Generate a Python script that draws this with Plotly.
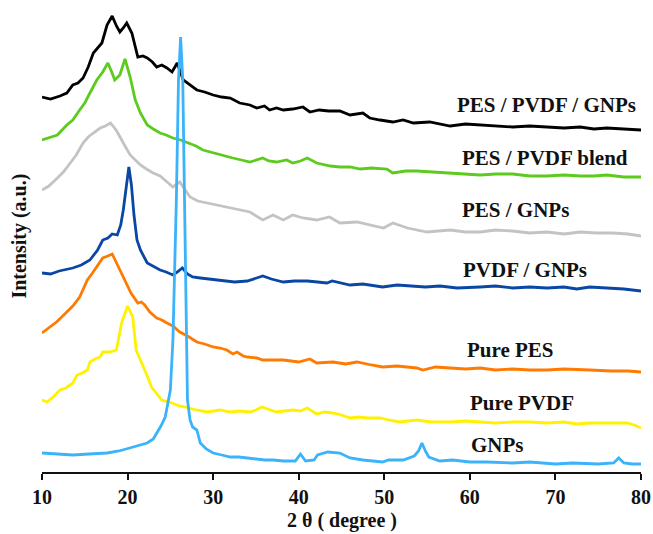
import plotly.graph_objects as go

# ---- data (2theta in degrees, intensity in arbitrary units) ----
x_black = [10.0, 11.0, 12.1, 12.9, 13.6, 14.2, 14.8, 15.4, 16.0, 16.5, 17.0, 17.6, 18.2, 18.7, 19.1, 19.5,
           19.9, 20.5, 21.2, 21.8, 22.3, 22.9, 23.4, 24.0, 24.6, 25.2, 25.8, 26.5, 27.2, 28.1, 29.0,
           30.0, 31.0, 32.0, 33.1, 34.3, 35.1, 36.0, 36.6, 37.4, 38.2, 39.3, 40.5, 41.3, 42.4, 43.5,
           44.8, 46.0, 47.5, 48.3, 49.5, 51.0, 52.2, 53.4, 55.3, 56.5, 57.7, 59.5, 61.2, 63.0, 65.0,
           67.0, 69.0, 71.0, 72.9, 74.5, 76.0, 78.0, 80.0]
y_black = [375, 373, 376, 379, 387, 389, 394, 405, 419, 424, 429, 447, 456, 446, 440, 444,
           449, 439, 415, 416, 414, 410, 405, 407, 404, 400, 409, 392, 388, 382, 380,
           377, 375, 374, 369, 367, 364, 366, 362, 364, 362, 363, 365, 360, 362, 361,
           361, 357, 359, 354, 352, 350, 352, 349, 350, 348, 346, 348, 347, 346, 345,
           346, 345, 344, 345, 343, 344, 343, 342]

x_green = [10.0, 10.8, 11.8, 12.9, 13.6, 14.4, 15.0, 15.6, 16.4, 17.1, 17.7, 18.1, 18.5, 19.1, 19.7,
           20.3, 20.9, 21.5, 22.3, 23.0, 23.8, 24.5, 25.3, 26.2, 27.0, 28.0, 28.8, 30.0, 31.0,
           32.3, 33.3, 34.3, 35.8, 36.5, 37.4, 38.6, 39.3, 40.2, 41.0, 42.1, 43.7, 44.8, 46.0,
           47.2, 48.5, 50.3, 51.0, 52.5, 53.8, 55.5, 57.7, 59.5, 61.2, 63.0, 65.0, 67.0, 69.0,
           71.0, 72.9, 74.5, 76.0, 78.0, 80.0]
y_green = [332, 334, 337, 347, 352, 362, 369, 379, 392, 400, 409, 401, 392, 397, 413,
           395, 372, 359, 347, 343, 339, 337, 334, 332, 329, 326, 322, 319, 317,
           314, 312, 310, 314, 311, 310, 312, 309, 311, 314, 309, 306, 305, 305,
           303, 304, 303, 299, 301, 301, 300, 299, 298, 297, 298, 298, 296, 296,
           297, 296, 296, 297, 295, 295]

x_gray = [10.0, 10.8, 11.8, 12.5, 13.3, 14.0, 14.8, 15.4, 16.0, 16.8, 17.4, 18.0, 18.4, 18.8, 19.5,
          20.3, 20.9, 21.5, 22.2, 23.0, 23.8, 24.6, 25.3, 26.1, 26.7, 27.3, 28.2, 29.3, 30.5,
          32.3, 33.3, 34.3, 35.8, 37.0, 38.2, 39.3, 40.5, 42.1, 43.6, 44.8, 46.8, 48.3, 49.9,
          51.0, 52.7, 55.0, 57.7, 59.5, 61.2, 63.0, 65.0, 67.0, 69.0, 71.0, 72.9, 74.8, 76.7,
          78.5, 80.0]
y_gray = [282, 286, 294, 300, 309, 317, 329, 335, 339, 344, 346, 349, 345, 340, 329,
          317, 312, 307, 303, 299, 296, 290, 285, 290, 282, 275, 271, 269, 267,
          264, 262, 260, 252, 257, 252, 257, 254, 252, 255, 249, 250, 247, 244,
          249, 244, 240, 242, 240, 240, 242, 241, 239, 240, 238, 240, 239, 239,
          238, 236]

x_blue = [10.0, 11.0, 12.0, 13.6, 14.6, 15.6, 16.5, 17.1, 17.7, 18.2, 18.8, 19.2, 19.5, 19.85, 20.15,
          20.45, 20.75, 21.1, 21.5, 22.3, 23.0, 23.8, 24.5, 25.3, 25.8, 26.4, 27.0, 27.6, 28.5,
          29.5, 31.2, 32.5, 34.0, 35.0, 35.8, 36.8, 38.2, 39.5, 41.0, 42.2, 43.3, 43.9, 45.0,
          46.0, 47.5, 49.8, 51.5, 53.0, 54.8, 56.5, 58.5, 61.2, 63.0, 65.0, 67.0, 69.0, 71.0,
          72.5, 74.0, 76.0, 78.0, 80.0]
y_blue = [199, 198, 201, 204, 207, 212, 222, 232, 234, 238, 237, 247, 262, 287, 305,
          287, 257, 232, 222, 209, 206, 202, 200, 197, 200, 204, 198, 195, 194,
          193, 192, 190, 191, 194, 196, 193, 190, 191, 191, 190, 189, 191, 189,
          187, 188, 185, 187, 186, 185, 186, 184, 185, 186, 184, 185, 184, 185,
          183, 185, 184, 183, 181]

x_orange = [10.0, 10.8, 11.7, 12.9, 13.6, 14.4, 15.3, 15.9, 16.4, 17.1, 17.7, 18.2, 18.6, 19.1, 19.7,
            20.4, 21.2, 21.6, 22.0, 22.6, 23.4, 24.0, 24.6, 25.3, 26.1, 27.0, 28.1, 29.0, 30.0,
            30.8, 31.6, 32.3, 32.8, 33.5, 34.0, 35.1, 35.8, 36.6, 38.2, 40.0, 41.3, 42.1, 44.0,
            45.5, 46.8, 48.5, 49.8, 51.5, 53.8, 54.5, 56.0, 57.7, 59.5, 61.2, 63.0, 65.0, 67.0,
            69.0, 71.0, 74.0, 76.5, 78.5, 80.0]
y_orange = [139, 144, 150, 160, 166, 175, 192, 199, 205, 214, 216, 218, 211, 202, 190,
            179, 169, 170, 167, 160, 154, 152, 149, 146, 140, 136, 130, 128, 125,
            124, 122, 118, 120, 116, 115, 114, 112, 112, 112, 110, 113, 109, 110,
            108, 110, 107, 105, 106, 104, 102, 105, 104, 103, 104, 102, 103, 102,
            102, 103, 102, 101, 101, 100]

x_yellow = [10.0, 10.6, 11.3, 12.1, 12.8, 13.6, 14.1, 14.7, 15.3, 15.6, 16.2, 16.8, 17.1, 17.9, 18.7,
            19.3, 20.0, 20.6, 21.0, 21.7, 22.2, 22.8, 23.4, 24.0, 25.2, 26.0, 26.8, 28.0, 29.3,
            30.8, 32.0, 33.1, 34.3, 35.0, 35.7, 36.5, 37.4, 38.3, 39.3, 40.2, 41.0, 42.1, 43.0,
            44.0, 45.0, 46.0, 47.0, 48.0, 49.5, 50.5, 51.8, 52.8, 53.8, 55.5, 57.7, 59.5, 61.2,
            63.0, 65.0, 67.0, 69.0, 71.0, 72.5, 74.0, 76.0, 78.4, 79.2, 80.0]
y_yellow = [72, 70, 75, 82, 84, 89, 97, 99, 102, 110, 113, 115, 120, 120, 122,
            149, 166, 155, 122, 109, 98, 85, 78, 72, 69, 66, 65, 62, 60,
            62, 60, 61, 60, 62, 65, 63, 60, 61, 62, 61, 64, 58, 60,
            59, 57, 54, 55, 54, 54, 52, 50, 51, 52, 50, 50, 51, 50,
            49, 50, 50, 49, 50, 48, 49, 49, 49, 47, 44]

x_gnp = [10.0, 11.5, 13.6, 15.5, 17.6, 19.0, 20.3, 21.3, 22.3, 23.0, 23.4, 23.9, 24.4, 25.0, 25.3,
         25.7, 25.95, 26.2, 26.45, 26.7, 27.0, 27.3, 27.6, 28.1, 28.5, 29.2, 30.0, 31.0, 32.0,
         33.0, 34.0, 35.0, 36.0, 37.0, 38.2, 39.6, 40.2, 40.8, 41.8, 42.2, 43.4, 44.8, 46.0,
         47.5, 48.8, 49.8, 50.5, 52.2, 53.5, 54.0, 54.4, 54.8, 55.2, 56.5, 58.0, 60.0, 62.0,
         65.0, 67.0, 70.0, 72.0, 75.0, 76.8, 77.4, 78.0, 79.0, 80.0]
y_gnp = [19, 18, 17, 18, 19, 21, 24, 26, 29, 33, 39, 46, 55, 82, 132,
         272, 392, 435, 392, 222, 72, 52, 45, 42, 29, 23, 19, 17, 15,
         15, 14, 13, 12, 12, 11, 11, 18, 11, 12, 17, 20, 19, 14,
         12, 11, 10, 12, 12, 16, 21, 29, 21, 15, 11, 12, 10, 10,
         9, 10, 8, 9, 8, 9, 14, 9, 8, 8]

labels = ["PES / PVDF / GNPs", "PES / PVDF blend", "PES / GNPs", "PVDF / GNPs",
          "Pure PES", "Pure PVDF", "GNPs"]
label_x = [69.0, 68.8, 65.3, 66.4, 64.8, 66.1, 63.2]
label_y = [367, 314, 262, 202, 122, 69, 27]

x_ticks = [10, 20, 30, 40, 50, 60, 70, 80]

series = [
    (x_black, y_black, "#000000"),
    (x_green, y_green, "#5CCB1E"),
    (x_gray, y_gray, "#C3C3C3"),
    (x_blue, y_blue, "#0A47A3"),
    (x_orange, y_orange, "#FF7A00"),
    (x_yellow, y_yellow, "#FFF200"),
    (x_gnp, y_gnp, "#3BB3FA"),
]

FONT = "Liberation Serif, Times New Roman, serif"

fig = go.Figure()
for (xs, ys, col), name in zip(series, labels):
    fig.add_trace(go.Scatter(x=xs, y=ys, mode="lines", name=name,
                             line=dict(color=col, width=2.8), showlegend=False))

for t, lx, ly in zip(labels, label_x, label_y):
    fig.add_annotation(x=lx, y=ly, xref="x", yref="y", text="<b>" + t + "</b>",
                       showarrow=False, xanchor="center", yanchor="middle",
                       font=dict(family=FONT, size=21, color="#111111"))

fig.add_annotation(x=-0.038, y=0.51, xref="paper", yref="paper", text="<b>Intensity (a.u.)</b>",
                   textangle=-90, showarrow=False, xanchor="center", yanchor="middle",
                   font=dict(family=FONT, size=20, color="#111111"))
fig.add_annotation(x=0.5, y=-0.104, xref="paper", yref="paper", text="<b>2 θ ( degree )</b>",
                   showarrow=False, xanchor="center", yanchor="middle",
                   font=dict(family=FONT, size=20, color="#111111"))

fig.update_layout(
    width=653, height=534,
    margin=dict(l=42, r=12, t=10, b=62, autoexpand=False),
    paper_bgcolor="white", plot_bgcolor="white",
    xaxis=dict(range=[10, 80], tickvals=x_ticks, ticktext=["<b>%d</b>" % v for v in x_ticks],
               showline=True, linecolor="#111111", linewidth=2, ticks="outside",
               ticklen=6, tickwidth=2, tickcolor="#111111", showgrid=False, zeroline=False,
               automargin=False,
               tickfont=dict(family=FONT, size=20, color="#111111")),
    yaxis=dict(range=[0, 462], showline=False, showticklabels=False, ticks="",
               showgrid=False, zeroline=False, automargin=False),
)

fig.write_html("out.html")
